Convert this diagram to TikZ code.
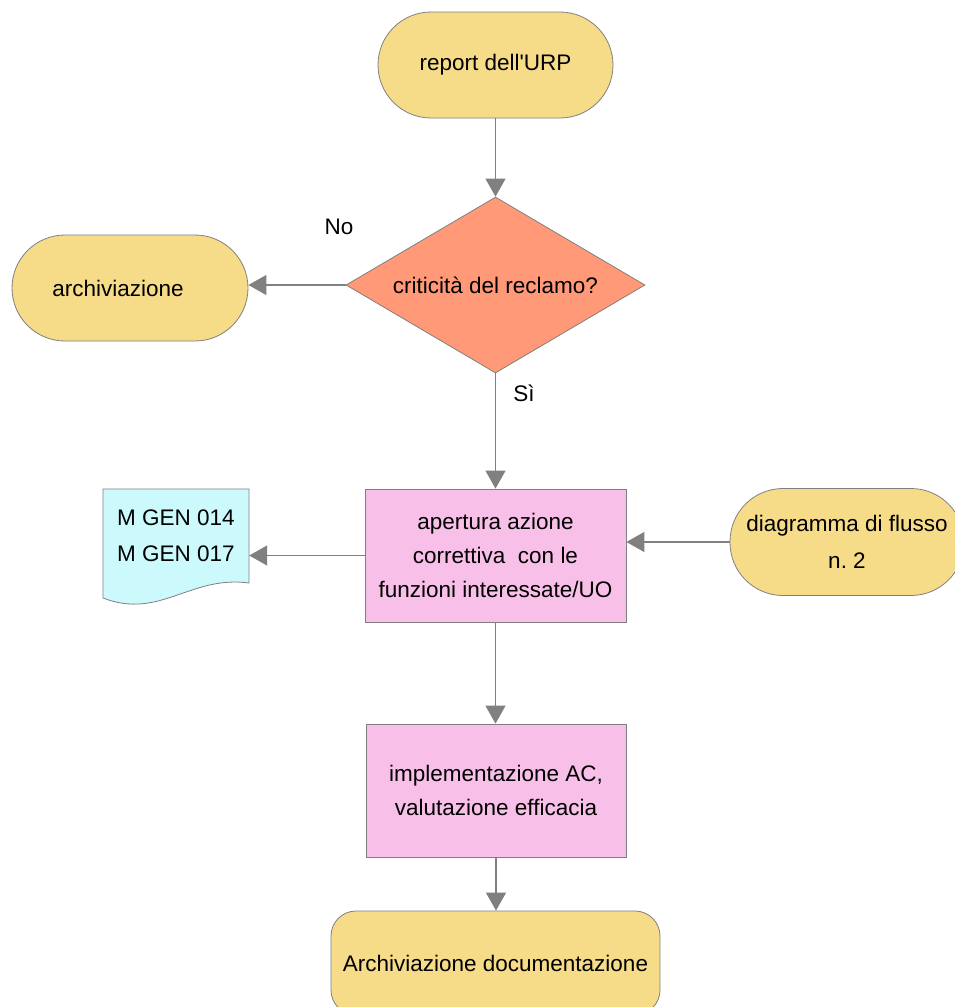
\documentclass[tikz,border=0pt]{standalone}
\usepackage{fontspec}
\setmainfont{Liberation Sans}
\usetikzlibrary{shapes.geometric,arrows.meta}
\definecolor{yel}{HTML}{F6DC88}
\definecolor{salmon}{HTML}{FF9977}
\definecolor{pinkbox}{HTML}{F8C0E8}
\definecolor{cyandoc}{HTML}{CCFAFC}
\definecolor{edge}{HTML}{808080}
\tikzset{
  base/.style={draw=edge, line width=0.8pt, inner sep=0pt, align=center},
  term/.style={base, fill=yel, rectangle, rounded corners=53pt},
  decision/.style={base, fill=salmon, diamond, aspect=3},
  process/.style={base, fill=pinkbox, rectangle},
  conn/.style={draw=edge, line width=1.2pt, -{Triangle[length=18pt,width=20pt]}},
  lbl/.style={inner sep=0pt}
}
\begin{document}
\begin{tikzpicture}[x=1pt,y=-1pt,font=\fontsize{22.5}{34}\selectfont]
\useasboundingbox (0,0) rectangle (955,1007);
\clip (0,0) rectangle (955,1007);

\node[term, minimum width=235pt, minimum height=106pt] (report) at (495.5,65) {report dell\textquotesingle URP};
\node[decision, minimum width=299pt, minimum height=176pt] (crit) at (495.5,285) {criticità del reclamo?};
\node[term, minimum width=236pt, minimum height=106pt] (arch) at (130,288) {\hspace*{-24pt}archiviazione};
\node[process, minimum width=261pt, minimum height=133pt] (apert) at (495.5,555.5) {apertura azione\\correttiva\ \ con le\\funzioni interessate/UO};
\node[term, minimum width=234pt, minimum height=107pt, font=\fontsize{22.5}{37}\selectfont] (diag) at (847,542) {diagramma di flusso\\n.\ 2};
\node[process, minimum width=260pt, minimum height=133pt] (impl) at (496,790.5) {implementazione AC,\\valutazione efficacia};
\node[base, fill=yel, rectangle, rounded corners=25pt, minimum width=329pt, minimum height=104pt] (fin) at (495.5,963) {Archiviazione documentazione};

% document shape
\draw[draw=edge, line width=0.8pt, fill=cyandoc]
  (103,489) -- (249,489) -- (249,583)
  .. controls (190,575) and (160,620) .. (103,598) -- cycle;
\node[lbl, minimum width=146pt, minimum height=94pt, align=center, font=\fontsize{22.5}{36}\selectfont] (doc) at (176,536) {M GEN 014\\M GEN 017};

% connectors
\draw[conn] (report.south) -- (crit.north);
\draw[conn] (crit.west) -- (crit.west -| arch.east);
\draw[conn] (crit.south) -- (apert.north);
\draw[conn] (apert.west) -- (apert.west -| doc.east);
\draw[conn] (diag.west) -- (diag.west -| apert.east);
\draw[conn] (apert.south) -- (impl.north -| apert.south);
\draw[conn] (impl.south) -- (fin.north -| impl.south);

% labels
\node[lbl] (no) at (339,227) {No};
\node[lbl] (si) at (524,393) {Sì};
\end{tikzpicture}
\end{document}
